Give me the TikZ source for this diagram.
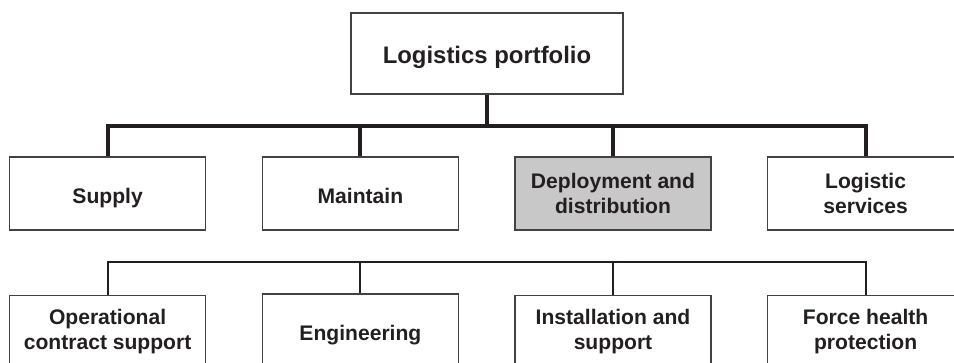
\documentclass[tikz,border=0pt]{standalone}
\usepackage{fontspec}
\setmainfont{Liberation Sans}
\usepackage{tikz}

\definecolor{ink}{HTML}{231F20}
\definecolor{boxgray}{HTML}{C8C8C8}

\begin{document}
\begin{tikzpicture}[
        box/.style={draw=ink!85, line width=0.75pt, minimum width=4.9cm, minimum height=1.825cm,
            align=center, text=ink, font=\fontsize{15}{17.5}\selectfont\bfseries},
        oneline/.style={text height=14pt, text depth=0pt},
        shaded/.style={box, fill=boxgray},
        trunk/.style={draw=ink, line width=2.8pt},
        branch/.style={draw=ink, line width=1.4pt}]
        \useasboundingbox (0,0) rectangle (23.85,-9.05);
        \clip (0,0) rectangle (23.85,-9.05);

        \node[box, oneline, minimum width=6.8cm, minimum height=2.025cm, font=\fontsize{17}{20}\selectfont\bfseries]
            (portfolio) at (12.175,-1.3375) {Logistics portfolio};

        \node[box, oneline] (supply) at (2.69,-4.8375) {Supply};
        \node[box, oneline] (maintain) at (9.01,-4.8375) {Maintain};
        \node[shaded] (deploy) at (15.325,-4.8375) {Deployment and\\distribution};
        \node[box] (services) at (21.64,-4.8375) {Logistic\\services};

        \node[box] (contract) at (2.69,-8.29) {Operational\\contract support};
        \node[box, oneline] (engineering) at (9.01,-8.2625) {Engineering};
        \node[box] (install) at (15.325,-8.29) {Installation and\\support};
        \node[box] (health) at (21.64,-8.29) {Force health\\protection};

        \coordinate (hub) at (12.175,-3.15);
        \coordinate (sub) at (12.175,-6.56);

        \draw[trunk] (portfolio) -- (hub);
        \draw[trunk] (supply.north) |- (services.north |- hub) -- (services.north);
        \foreach \n in {maintain, deploy}
            \draw[trunk] (\n.north) -- (\n.north |- hub);

        \draw[branch] (contract.north) |- (health.north |- sub) -- (health.north);
        \foreach \n in {engineering, install}
            \draw[branch] (\n.north) -- (\n.north |- sub);
    \end{tikzpicture}
\end{document}
